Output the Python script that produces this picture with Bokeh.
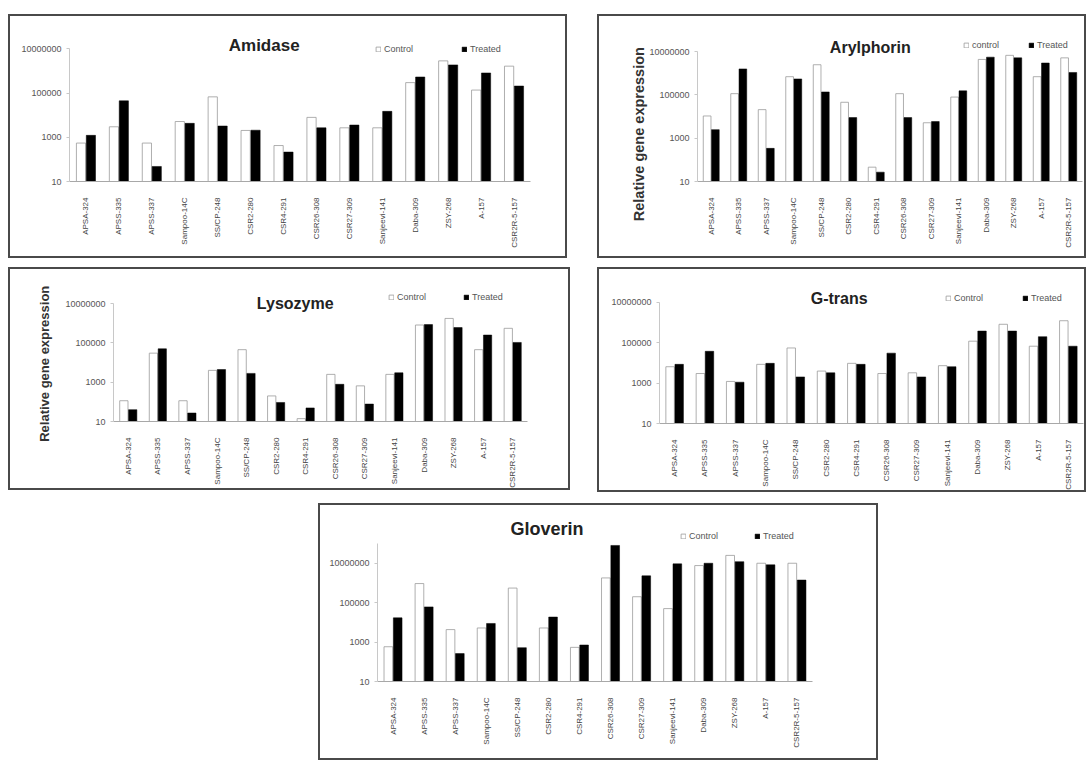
import math
from bokeh.plotting import figure
from bokeh.models import (ColumnDataSource, FactorRange, FixedTicker, Label, Spacer,
                          Legend, LegendItem, BasicTickFormatter, Title)
from bokeh.layouts import row, column
from bokeh.transform import dodge
from bokeh.embed import file_html
from bokeh.resources import INLINE

# ---------------- data ----------------
CATEGORIES = ["APSA-324", "APSS-335", "APSS-337", "Sampoo-14C", "SS/CP-248", "CSR2-280",
              "CSR4-291", "CSR26-308", "CSR27-309", "Sanjeevi-141", "Daba-309", "ZSY-268",
              "A-157", "CSR2R-5-157"]
Y_TICKS = [10, 1000, 100000, 10000000]
Y_TICK_LABELS = ["10", "1000", "100000", "10000000"]

AMIDASE_CONTROL = [550, 3000, 550, 5200, 68000, 2050, 425, 8000, 2700, 2700, 300000, 2900000, 138000, 1670000]
AMIDASE_TREATED = [1230, 45000, 48, 4300, 3250, 2100, 215, 2700, 3600, 15000, 540000, 1900000, 820000, 210000]

ARYLPHORIN_CONTROL = [10700, 115000, 21000, 700000, 2500000, 46000, 46, 115000, 5200, 80000, 4400000, 6800000, 700000, 5200000]
ARYLPHORIN_TREATED = [2500, 1600000, 340, 550000, 138000, 9000, 27, 9000, 5900, 155000, 5600000, 5200000, 3000000, 1100000]

LYSOZYME_CONTROL = [114, 30000, 114, 4000, 45000, 200, 14, 2500, 650, 2500, 810000, 1750000, 45000, 550000]
LYSOZYME_TREATED = [40, 50000, 27, 4400, 2800, 93, 49, 780, 77, 3000, 850000, 600000, 250000, 105000]

GTRANS_CONTROL = [6400, 2950, 1200, 8400, 54000, 3900, 9400, 2950, 3200, 7200, 117000, 800000, 66000, 1200000]
GTRANS_TREATED = [8400, 37000, 1100, 9400, 2000, 3200, 8400, 30000, 2000, 6400, 370000, 370000, 195000, 66000]

GLOVERIN_CONTROL = [580, 930000, 4300, 5200, 550000, 5200, 540, 1800000, 200000, 50000, 7600000, 25000000, 10000000, 10000000]
GLOVERIN_TREATED = [17000, 61000, 260, 8800, 520, 18600, 710, 80000000, 2300000, 9300000, 10000000, 12000000, 8300000, 1400000]

FONT = "Liberation Sans"


def make_panel(title, control, treated, legend_names, geo, ylabel=None):
    bx, by, bw, bh = geo["box"]
    cx, cy = bx + 2, by + 2
    cw, ch = bw - 4, bh - 4
    fl, fr = geo["frame"]
    base, ppd, ftop = geo["base"], geo["ppd"], geo["top"]
    ytop = 10 ** (1 + (base - ftop) / ppd)
    p = figure(x_range=FactorRange(*CATEGORIES), y_axis_type="log", y_range=(10, ytop),
               width=bw, height=bh,
               min_border_left=int(round(fl - cx)), min_border_right=int(round(cx + cw - fr)),
               min_border_top=int(round(ftop - cy)), min_border_bottom=int(round(cy + ch - base)),
               output_backend="svg", toolbar_location=None, tools="")
    p.styles = {"border": "2px solid #4a4a4a"}
    p.background_fill_color = "white"
    p.border_fill_color = "white"
    p.outline_line_color = None
    p.grid.grid_line_color = None

    src = ColumnDataSource(dict(cat=CATEGORIES, control=control, treated=treated))
    r1 = p.vbar(x=dodge("cat", -0.15, range=p.x_range), top="control", bottom=10, width=0.28,
                fill_color="white", line_color="#9a9a9a", line_width=0.8, source=src)
    r2 = p.vbar(x=dodge("cat", 0.15, range=p.x_range), top="treated", bottom=10, width=0.28,
                fill_color="black", line_color="black", line_width=0.5, source=src)

    # y axis
    p.yaxis.ticker = FixedTicker(ticks=Y_TICKS)
    p.yaxis.formatter = BasicTickFormatter(use_scientific=False)
    p.yaxis.major_label_overrides = dict(zip(Y_TICKS, Y_TICK_LABELS))
    p.yaxis.bounds = (10, geo["ybound"])
    p.yaxis.axis_line_color = "#c8c8c8"
    p.yaxis.major_tick_line_color = "#c8c8c8"
    p.yaxis.major_tick_in = 0
    p.yaxis.major_tick_out = 3
    p.yaxis.minor_tick_line_color = None
    p.yaxis.major_label_text_font = FONT
    p.yaxis.major_label_text_font_size = "9px"
    p.yaxis.major_label_text_color = "#555555"

    # x axis
    p.xaxis.major_label_orientation = math.pi / 2
    p.xaxis.major_label_text_font = FONT
    p.xaxis.major_label_text_font_size = "8px"
    p.xaxis.major_label_text_color = "#444444"
    p.xaxis.major_label_standoff = 10
    p.xaxis.major_tick_line_color = None
    p.xaxis.axis_line_color = "#a8a8a8"

    catw = (fr - fl) / len(CATEGORIES)

    def to_x(px):
        return (px - fl) / catw

    def to_y(py):
        return 10 ** (1 + (base - py) / ppd)

    # title (inside the frame area)
    tx, ty, tsize = geo["title"]
    p.add_layout(Label(x=to_x(tx), y=to_y(ty), text=title,
                       text_font=FONT, text_font_style="bold", text_font_size=tsize,
                       text_color="#222222", text_align="center", text_baseline="middle"))

    # y-axis title on the left side; its lower end placed like the reference
    if ylabel:
        text_bottom, standoff, fsize = geo["ylabel"]
        p.add_layout(Title(text=ylabel, align="left", offset=base - text_bottom,
                           standoff=standoff, text_font=FONT, text_font_style="bold",
                           text_font_size=fsize, text_color="#333333"), "left")

    # legend
    lx, ly, loff = geo["legend"]
    legend = Legend(items=[LegendItem(label=legend_names[0], renderers=[r1]),
                           LegendItem(label=legend_names[1], renderers=[r2])],
                    orientation="horizontal",
                    location=(lx - fl, base - (ly + 5.5)),
                    glyph_width=6, glyph_height=6, label_standoff=3,
                    label_width=loff - 9, label_height=9, spacing=0, padding=0, margin=0,
                    label_text_font=FONT, label_text_font_size="9px",
                    label_text_color="#555555",
                    border_line_alpha=0, background_fill_alpha=0)
    p.add_layout(legend)
    return p


p1 = make_panel("Amidase", AMIDASE_CONTROL, AMIDASE_TREATED, ["Control", "Treated"],
                dict(box=(8, 14, 559, 244), frame=(69, 526), base=177, ppd=21.5, top=30,
                     ybound=1e7, title=(262, 45, "17px"), legend=(375, 44, 86)))
p2 = make_panel("Arylphorin", ARYLPHORIN_CONTROL, ARYLPHORIN_TREATED, ["control", "Treated"],
                dict(box=(597, 14, 489, 244), frame=(697, 1078), base=177.3, ppd=21.1, top=30,
                     ybound=1e7, title=(868, 47, "16px"), legend=(963, 41, 65),
                     ylabel=(217, 0, "14.5px")),
                ylabel="Relative gene expression")
p3 = make_panel("Lysozyme", LYSOZYME_CONTROL, LYSOZYME_TREATED, ["Control", "Treated"],
                dict(box=(8, 267, 562, 223), frame=(113, 523), base=422.7, ppd=19.9, top=283,
                     ybound=1e7, title=(293, 303, "16px"), legend=(388, 298, 75),
                     ylabel=(443, 22, "13px")),
                ylabel="Relative gene expression")
p4 = make_panel("G-trans", GTRANS_CONTROL, GTRANS_TREATED, ["Control", "Treated"],
                dict(box=(597, 267, 489, 225), frame=(659, 1079), base=419, ppd=19.8, top=282,
                     ybound=1e7, title=(837, 297, "16px"), legend=(945, 293, 77)))
p5 = make_panel("Gloverin", GLOVERIN_CONTROL, GLOVERIN_TREATED, ["Control", "Treated"],
                dict(box=(318, 503, 560, 257), frame=(377, 808), base=677.3, ppd=19.27, top=515,
                     ybound=1e8, title=(545, 528, "18px"), legend=(680, 532, 74)))

layout = column(
    Spacer(width=10, height=14),
    row(Spacer(width=8, height=10), p1, Spacer(width=30, height=10), p2),
    Spacer(width=10, height=9),
    row(Spacer(width=8, height=10), p3, Spacer(width=27, height=10), p4),
    Spacer(width=10, height=11),
    row(Spacer(width=318, height=10), p5),
)

open("out.html", "w").write(file_html(layout, INLINE))
